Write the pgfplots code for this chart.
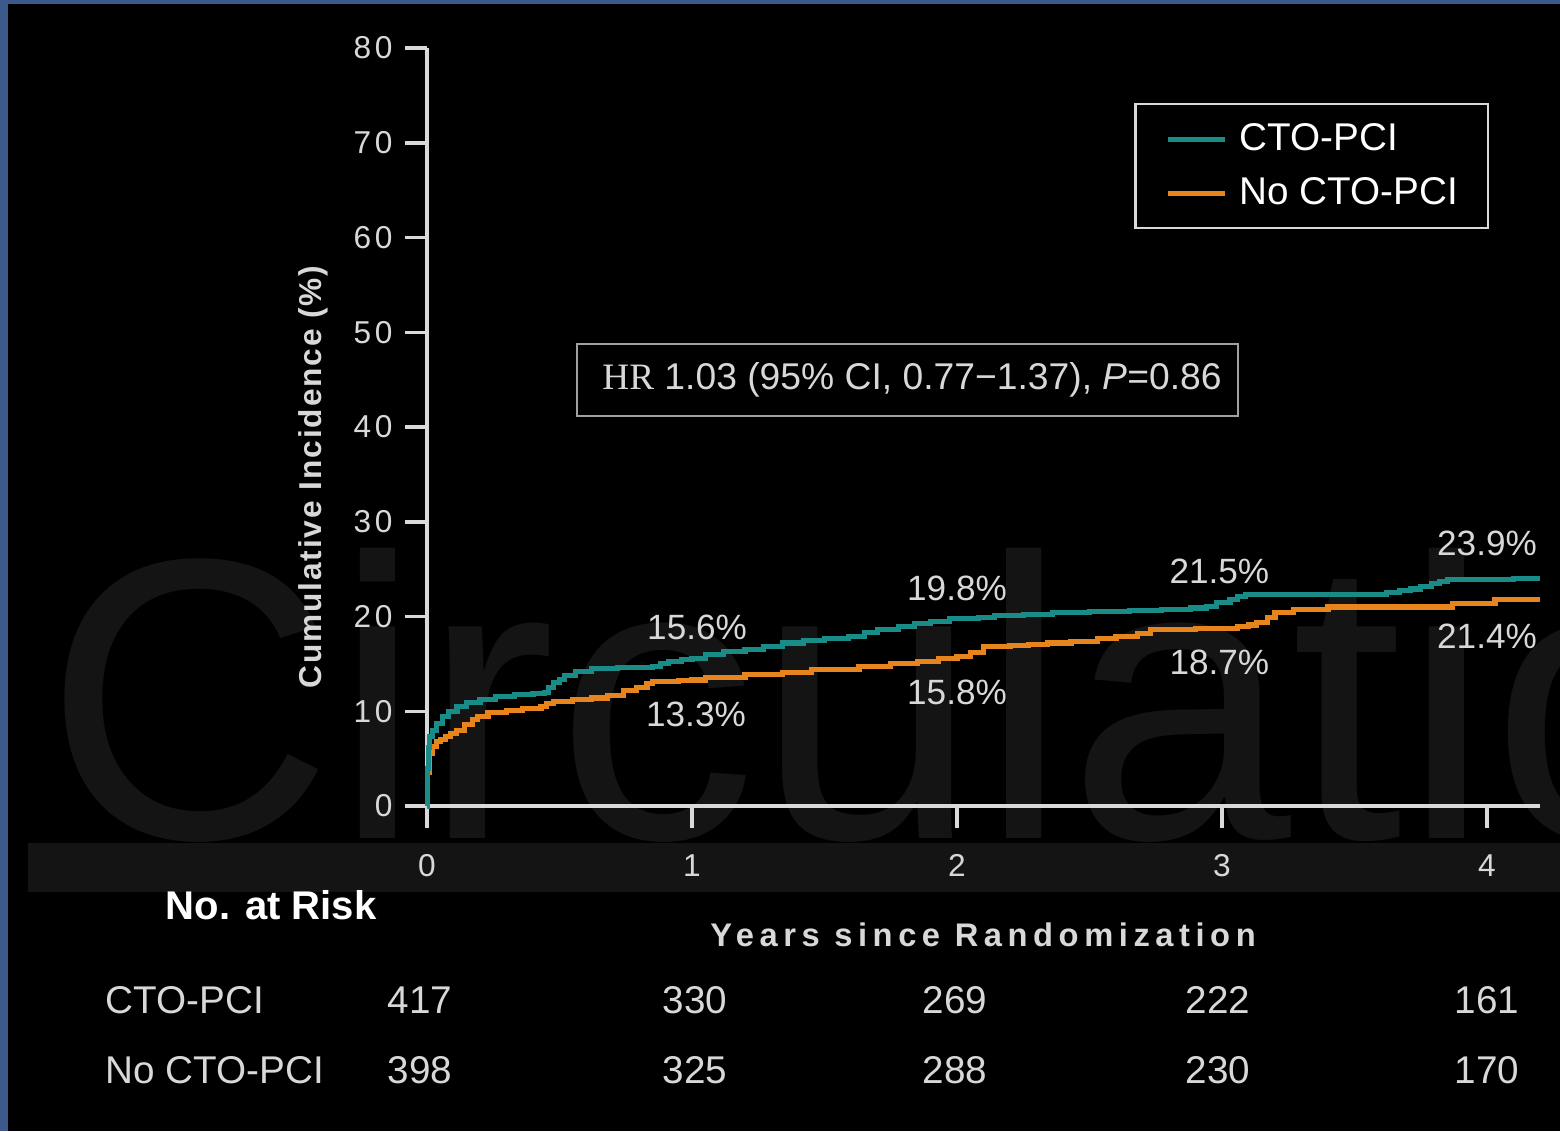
\documentclass[border=0pt]{standalone}
\usepackage{fontspec}
\setmainfont{Liberation Sans}
\newfontfamily\seriffont{Liberation Serif}
\usepackage{pgfplots}
\pgfplotsset{compat=1.18}

\definecolor{ctoteal}{HTML}{1A8C87}
\definecolor{ctoorange}{HTML}{E8841C}
\definecolor{frameblue}{HTML}{3B5A8B}
\definecolor{axisgray}{HTML}{D9D9D9}
\definecolor{labelgray}{HTML}{D8D8D8}
\definecolor{boxgray}{HTML}{A0A0A0}
\definecolor{wmgray}{HTML}{141414}
\definecolor{bandgray}{HTML}{141414}

% Cumulative incidence (%) by years since randomization
\pgfplotstableread{
t inc
0 0
0.002 4.0
0.005 6.2
0.01 7.3
0.02 8.0
0.035 8.7
0.057 9.4
0.08 10.0
0.113 10.5
0.15 10.9
0.2 11.2
0.26 11.6
0.33 11.8
0.40 11.9
0.445 12.0
0.46 12.5
0.476 13.0
0.50 13.4
0.52 13.8
0.56 14.2
0.62 14.5
0.72 14.6
0.85 14.7
0.88 15.0
0.91 15.3
0.96 15.5
1.00 15.6
1.05 16.0
1.12 16.3
1.20 16.5
1.27 16.8
1.34 17.2
1.42 17.5
1.50 17.7
1.59 17.9
1.65 18.3
1.70 18.6
1.78 18.9
1.84 19.3
1.90 19.5
1.97 19.8
2.08 19.9
2.14 20.1
2.25 20.2
2.36 20.4
2.50 20.5
2.65 20.6
2.77 20.7
2.88 20.9
2.94 21.1
2.98 21.5
3.03 21.8
3.06 22.1
3.09 22.3
3.62 22.5
3.67 22.7
3.71 22.9
3.75 23.2
3.79 23.5
3.82 23.7
3.85 23.9
4.10 24.0
4.20 24.0
}\ctopci

\pgfplotstableread{
t inc
0 0
0.003 3.5
0.008 5.5
0.02 6.3
0.035 6.8
0.05 7.0
0.07 7.3
0.09 7.7
0.11 8.0
0.14 8.6
0.17 9.1
0.19 9.4
0.23 9.9
0.30 10.1
0.36 10.3
0.43 10.5
0.45 10.8
0.476 11.0
0.55 11.2
0.62 11.4
0.68 11.7
0.74 12.2
0.79 12.5
0.83 12.9
0.85 13.1
0.95 13.2
1.00 13.3
1.05 13.6
1.20 13.9
1.34 14.1
1.45 14.4
1.63 14.7
1.75 15.0
1.85 15.3
1.93 15.6
2.00 15.8
2.05 16.2
2.10 16.8
2.20 16.9
2.27 17.0
2.34 17.2
2.43 17.4
2.53 17.7
2.60 17.9
2.68 18.2
2.73 18.6
2.90 18.7
3.06 18.9
3.10 19.1
3.13 19.4
3.17 19.9
3.20 20.4
3.27 20.7
3.40 21.0
3.87 21.4
4.03 21.8
4.20 21.8
}\noctopci

\begin{document}
\begin{tikzpicture}
% slide background and frame
\fill[black] (0,0) rectangle (156mm,113.1mm);
\fill[frameblue] (0,0) rectangle (0.8mm,113.1mm);
\fill[frameblue] (0,112.7mm) rectangle (156mm,113.1mm);
\begin{scope}
  \clip (0.8mm,0) rectangle (156mm,112.7mm);
  \node[anchor=base west, inner sep=0pt, text=wmgray,
        font=\fontsize{114}{114}\selectfont] at (4.4mm,29.3mm) {Circulation};
\end{scope}
\fill[bandgray] (2.8mm,23.9mm) rectangle (156mm,28.8mm);

\begin{axis}[
  at={(42.7mm,32.5mm)}, anchor=origin,
  scale only axis, width=111.3mm, height=75.8mm,
  xmin=0, xmax=4.2, ymin=0, ymax=80,
  clip=false,
  axis lines*=left,
  axis line style={axisgray, line width=1pt},
  xtick={0,1,2,3,4}, ytick={0,10,...,80},
  tick align=outside, major tick length=2.2mm,
  tick style={axisgray, line width=1pt},
  /pgf/number format/assume math mode=true,
  yticklabel style={font=\fontsize{9}{10}\selectfont\addfontfeature{LetterSpace=12},
    text=labelgray},
  xticklabel style={font=\fontsize{9}{10}\selectfont, text=labelgray, yshift=-1.4mm},
  reverse legend,
  legend style={at={(axis cs:2.668,74.2)}, anchor=north west,
    fill=black, draw=axisgray, line width=0.7pt, text=white,
    font=\fontsize{11}{13}\selectfont,
    inner xsep=3.0mm, inner ysep=1.8mm, row sep=2.0mm, column sep=1.3mm,
    nodes={inner sep=0pt, text height=2.8mm, text depth=0.6mm},
    cells={anchor=west}},
  legend image code/.code={\draw[#1, line width=1.3pt] (0mm,0mm) -- (5.7mm,0mm);},
]
\addplot[const plot, ctoorange, line width=1.45pt] table[x=t, y=inc] {\noctopci};
\addlegendentry{No CTO-PCI}
\addplot[const plot, ctoteal, line width=1.45pt] table[x=t, y=inc] {\ctopci};
\addlegendentry{CTO-PCI}

% rates at each year
\begin{scope}[every node/.style={font=\fontsize{10}{12}\selectfont, text=labelgray, inner sep=0pt}]
\node at (axis cs:1.019,18.9) {15.6\%};
\node at (axis cs:1.015,9.7) {13.3\%};
\node at (axis cs:2.0,23.0) {19.8\%};
\node at (axis cs:2.0,12.0) {15.8\%};
\node at (axis cs:2.99,24.8) {21.5\%};
\node at (axis cs:2.99,15.2) {18.7\%};
\node at (axis cs:4.0,27.7) {23.9\%};
\node at (axis cs:4.0,17.9) {21.4\%};
\end{scope}

% numbers at risk
\begin{scope}[every node/.style={font=\fontsize{11}{13}\selectfont, text=labelgray, inner sep=0pt}]
\node at (axis cs:-0.026,-20.5) {417};
\node at (axis cs:1.011,-20.5) {330};
\node at (axis cs:1.992,-20.5) {269};
\node at (axis cs:2.985,-20.5) {222};
\node at (axis cs:4.0,-20.5) {161};
\node at (axis cs:-0.026,-27.9) {398};
\node at (axis cs:1.011,-27.9) {325};
\node at (axis cs:1.992,-27.9) {288};
\node at (axis cs:2.985,-27.9) {230};
\node at (axis cs:4.0,-27.9) {170};
\end{scope}
\end{axis}

% hazard ratio box
\node[draw=boxgray, line width=0.6pt, minimum width=66.1mm, minimum height=7.2mm,
      inner sep=0pt, font=\fontsize{10.6}{12}\selectfont, text=labelgray]
  at (90.75mm,75.1mm) {\raisebox{-0.35mm}{\hspace*{0.9mm}{\seriffont HR} 1.03 (95\% CI, 0.77−1.37), \textit{P}=0.86}};

% axis titles
\node[rotate=90, inner sep=0pt, text=labelgray,
      font=\bfseries\fontsize{9}{10}\selectfont\addfontfeature{LetterSpace=6}]
  at (31.3mm,65.4mm) {Cumulative Incidence (\%)};
\node[inner sep=0pt, text=labelgray,
      font=\bfseries\fontsize{9.3}{10}\selectfont\addfontfeature{LetterSpace=17}]
  at (98.3mm,19.6mm) {Years since Randomization};

% risk table row titles
\node[anchor=west, inner sep=0pt, text=white, font=\bfseries\fontsize{11.4}{13}\selectfont]
  at (16.5mm,22.6mm) {No. at Risk};
\node[anchor=west, inner sep=0pt, text=labelgray, font=\fontsize{11}{13}\selectfont]
  at (10.5mm,13.1mm) {CTO-PCI};
\node[anchor=west, inner sep=0pt, text=labelgray, font=\fontsize{11}{13}\selectfont]
  at (10.5mm,6.1mm) {No CTO-PCI};
\end{tikzpicture}
\end{document}
